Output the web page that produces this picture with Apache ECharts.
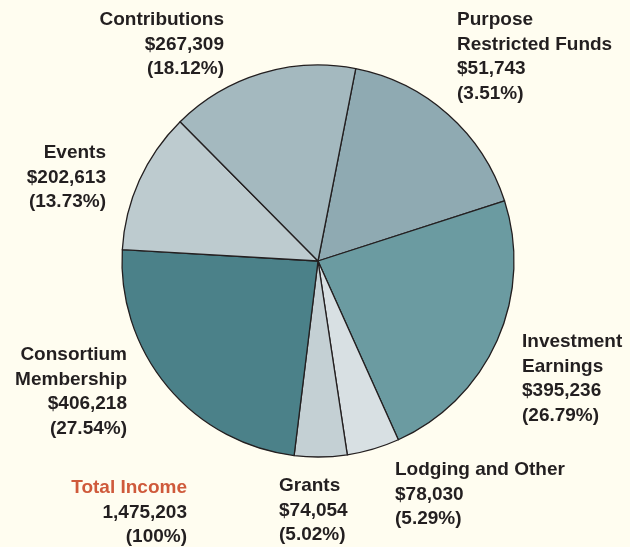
<!DOCTYPE html>
<html>
<head>
<meta charset="utf-8">
<script src="https://cdn.jsdelivr.net/npm/echarts@6/dist/echarts.min.js"></script>
<style>
  html, body { margin: 0; padding: 0; background: #fffdf0; }
  #chart { width: 630px; height: 547px; }
</style>
</head>
<body>
<div id="chart"></div>
<script>
// slices listed clockwise, starting just right of 12 o'clock
const categories = ["Purpose\nRestricted Funds", "Investment\nEarnings", "Lodging and Other",
  "Grants", "Consortium\nMembership", "Events", "Contributions"];
const amounts = [51743, 395236, 78030, 74054, 406218, 202613, 267309];
const percents = ["3.51", "26.79", "5.29", "5.02", "27.54", "13.73", "18.12"];
// slice sizes as they are drawn in the picture (degrees of the circle)
const sliceSizes = [61.0, 83.7, 15.6, 15.6, 86.3, 42.0, 55.8];
const totalIncome = 1475203;

const colors = ["#8faab2", "#6b9ba1", "#d8e0e3", "#c4d0d4", "#4b8189", "#bdcbcf", "#a4b9bf"];
// label anchors: x, top y, alignment
const labelPos = [
  [457, 8, "left"], [522, 330, "left"], [395, 458, "left"], [279, 474, "left"],
  [127, 343, "right"], [106, 141, "right"], [224, 8, "right"]
];

const money = (n) => "$" + n.toLocaleString("en-US");

let myChart = echarts.init(document.getElementById("chart"), null, { renderer: "canvas" });

let option = {
  backgroundColor: "#fffdf0",
  animation: false,
  graphic: [
    {
      type: "text",
      x: 187,
      y: 476,
      style: {
        text: "{t|Total Income}\n{n|" + totalIncome.toLocaleString("en-US") + "}\n{n|(100%)}",
        align: "right",
        verticalAlign: "top",
        rich: {
          t: { fill: "#cf5a3b", font: "bold 19px 'Liberation Sans', Arial, sans-serif", lineHeight: 24.5, align: "right" },
          n: { fill: "#231f20", font: "bold 19px 'Liberation Sans', Arial, sans-serif", lineHeight: 24.5, align: "right" }
        }
      }
    }
  ],
  series: [
    {
      type: "pie",
      center: [318, 261],
      radius: [0, 196],
      startAngle: 78.9,
      clockwise: true,
      silent: true,
      avoidLabelOverlap: false,
      itemStyle: { borderColor: "#231f20", borderWidth: 1.3 },
      label: {
        show: true,
        position: "outside",
        color: "#231f20",
        fontFamily: "'Liberation Sans', Arial, sans-serif",
        fontWeight: "bold",
        fontSize: 19,
        lineHeight: 24.5,
        formatter: (p) => categories[p.dataIndex] + "\n" + money(amounts[p.dataIndex]) +
          "\n(" + percents[p.dataIndex] + "%)"
      },
      labelLine: { show: false },
      labelLayout: (params) => {
        const p = labelPos[params.dataIndex];
        return { x: p[0], y: p[1], align: p[2], verticalAlign: "top" };
      },
      data: categories.map((name, i) => ({
        name: name,
        value: sliceSizes[i],
        itemStyle: { color: colors[i] }
      }))
    }
  ]
};
myChart.setOption(option);
window.addEventListener("resize", myChart.resize);
</script>
</body>
</html>
